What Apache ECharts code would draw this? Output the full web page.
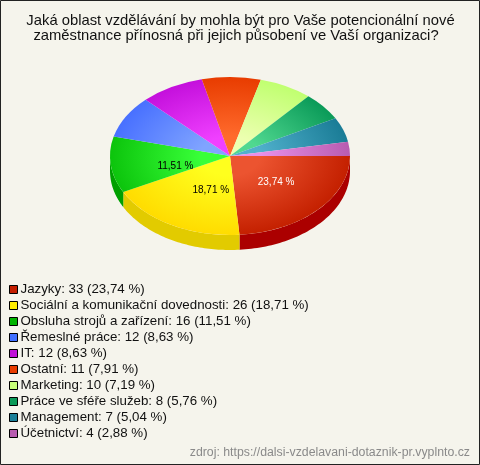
<!DOCTYPE html>
<html><head><meta charset="utf-8">
<script src="https://cdn.jsdelivr.net/npm/echarts@6/dist/echarts.min.js"></script>
<style>html,body{margin:0;padding:0;background:#f5f4ec}#c{width:480px;height:465px}</style>
</head><body><div id="c"></div>
<script>
var titleLines = ['Jaká oblast vzdělávání by mohla být pro Vaše potencionální nové', 'zaměstnance přínosná při jejich působení ve Vaší organizaci?'];
var categories = ['Jazyky','Sociální a komunikační dovednosti','Obsluha strojů a zařízení','Řemeslné práce','IT','Ostatní','Marketing','Práce ve sféře služeb','Management','Účetnictví'];
var counts = [33,26,16,12,12,11,10,8,7,4];
var percents = ['23,74','18,71','11,51','8,63','8,63','7,91','7,19','5,76','5,04','2,88'];
var source = 'zdroj: https://dalsi-vzdelavani-dotaznik-pr.vyplnto.cz';
var legendColors = ['#c41e00','#ffee00','#00b400','#4070ff','#c010d8','#e83c00','#c8ff78','#0a9a58','#1a7f98','#b85cb0'];
var edgeColors = ['#c42000','#ffdc00','#0cc40c','#4870ff','#c410dc','#e83c00','#c0ff70','#0a9a58','#1a7c96','#b85cb0'];
var lightColors = ['#ec5430','#ffff1e','#38ff38','#80a4ff','#f040ff','#ff6a2c','#ecffb0','#50d890','#50b0cc','#e890e8'];
var wallColors = ['#ab0000','#e2cb00','#00a000','#2040b0','#8000a0','#b03000','#90c050','#007040','#105870','#904088'];

var CX = 230, CY = 156, RX = 120, RY = 79, DEPTH = 15;
var total = counts.reduce(function(a,b){return a+b;},0);
var labelShift = [[2,-1],[10,0],[5,6]];

function makeItem(index){
  return function(params, api){
    var start = 0;
    for (var k=0;k<index;k++) start += counts[k];
    var a0 = start/total*2*Math.PI;
    var a1 = (start+api.value(0))/total*2*Math.PI;
    var kids = [];
    var w0 = Math.max(a0,0), w1 = Math.min(a1,Math.PI);
    if (w1 > w0){
      var pts = [], n = 60, i, t;
      for (i=0;i<=n;i++){ t = w0+(w1-w0)*i/n; pts.push([CX+RX*Math.cos(t), CY+RY*Math.sin(t)]); }
      for (i=n;i>=0;i--){ t = w0+(w1-w0)*i/n; pts.push([CX+RX*Math.cos(t), CY+RY*Math.sin(t)+DEPTH]); }
      kids.push({type:'polygon', shape:{points:pts}, style:{fill:wallColors[index]}});
    }
    kids.push({type:'group', x:CX, y:CY, scaleX:1, scaleY:RY/RX, children:[{
      type:'sector',
      shape:{cx:0, cy:0, r:RX, r0:0, startAngle:a0, endAngle:a1, clockwise:true},
      style:{fill:new echarts.graphic.RadialGradient(0,0,RX,[
        {offset:0,color:lightColors[index]},
        {offset:0.25,color:lightColors[index]},
        {offset:1,color:edgeColors[index]}],true)}
    }]});
    if (counts[index]/total >= 0.1){
      var m = (a0+a1)/2, s = labelShift[index];
      kids.push({type:'text', x:CX+RX*0.5*Math.cos(m)+s[0], y:CY+RY*0.5*Math.sin(m)+s[1], z2:100,
        style:{text:percents[index]+' %', fill:index===0?'#ffffff':'#000000',
          font:'10px "Liberation Sans", Arial', align:'center', verticalAlign:'middle'}});
    }
    return {type:'group', children:kids};
  };
}

var series = categories.map(function(name,i){
  return {type:'custom', name:name+': '+counts[i]+' ('+percents[i]+' %)', coordinateSystem:'none',
    data:[[counts[i]]], renderItem:makeItem(i), silent:true, animation:false,
    itemStyle:{color:legendColors[i]}};
});

var chart = echarts.init(document.getElementById('c'), null, {renderer:'canvas'});
chart.setOption({
  backgroundColor:'#f5f4ec', animation:false,
  legend:{orient:'vertical', left:9, top:283, padding:0, itemWidth:8, itemHeight:8, itemGap:3, icon:'rect', selectedMode:false,
    itemStyle:{borderColor:'#000', borderWidth:1},
    textStyle:{fontFamily:'"Liberation Sans", Arial', fontSize:13.3, color:'#111', padding:[0,0,0,-2], lineHeight:13, height:13},
    data:series.map(function(s){return s.name;})},
  graphic:[
    {type:'rect', z:0, shape:{x:0.5,y:0.5,width:479,height:464}, style:{fill:'none',stroke:'#222',lineWidth:1}},
    {type:'text', x:240.5, y:21, style:{text:titleLines[0], font:'14.8px "Liberation Sans", Arial', fill:'#111', align:'center', verticalAlign:'middle'}},
    {type:'text', x:236, y:36, style:{text:titleLines[1], font:'14.8px "Liberation Sans", Arial', fill:'#111', align:'center', verticalAlign:'middle'}},
    {type:'text', right:10, top:447, style:{text:source, font:'12.3px "Liberation Sans", Arial', fill:'#8a8a8a'}}
  ],
  series:series
});
</script></body></html>
